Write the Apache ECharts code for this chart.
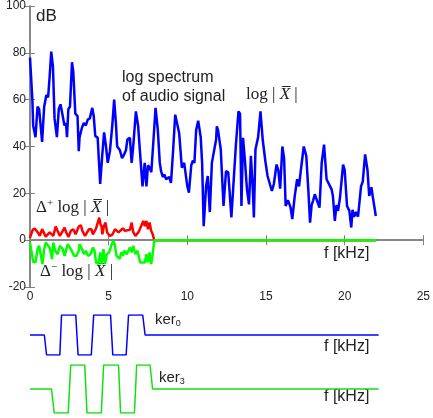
<!DOCTYPE html>
<html>
<head>
<meta charset="utf-8">
<script src="https://cdn.jsdelivr.net/npm/echarts@6/dist/echarts.min.js"></script>
<style>
  html, body { margin: 0; padding: 0; background: #fff; }
  #chart { width: 433px; height: 418px; }
</style>
</head>
<body>
<div id="chart"></div>
<script>
// log spectrum (blue): frequency in kHz, level in dB
var specFreq = [0,0.15,0.2,0.35,0.48,0.58,0.77,0.9,0.98,1.04,1.15,1.25,1.35,1.46,1.56,1.71,1.83,1.94,2.08,2.19,2.29,2.35,2.44,2.54,2.67,2.75,2.88,3.02,3.1,3.15,3.3,3.42,3.55,3.67,3.8,3.96,4.05,4.15,4.3,4.46,4.6,4.71,4.83,4.94,5.08,5.23,5.35,5.46,5.54,5.71,5.85,5.94,6.1,6.19,6.35,6.46,6.56,6.73,6.875,6.98,7.15,7.29,7.4,7.5,7.6,7.71,7.85,7.98,8.125,8.25,8.33,8.44,8.55,8.65,8.85,8.96,9.1,9.23,9.33,9.48,9.65,9.8,10,10.1,10.25,10.35,10.45,10.56,10.69,10.85,10.94,11.04,11.19,11.3,11.43,11.56,11.67,11.83,11.875,11.95,12.125,12.3,12.46,12.6,12.7,12.8,12.96,13.08,13.25,13.35,13.44,13.54,13.65,13.79,13.92,14.04,14.17,14.23,14.33,14.5,14.65,14.79,14.96,15.1,15.2,15.375,15.5,15.67,15.78,15.9,16.04,16.15,16.25,16.4,16.56,16.67,16.83,16.98,17.1,17.2,17.4,17.56,17.7,17.8,17.9,18.0,18.1,18.2,18.4,18.54,18.69,18.85,19.0,19.17,19.25,19.375,19.48,19.58,19.7,19.9,20.0,20.15,20.3,20.42,20.5,20.6,20.72,20.85,21.04,21.15,21.3,21.45,21.56,21.7,21.8,21.98];
var specDb = [78,60,49,44,57,56,42,57,57.5,62,61,70,80.5,74,52,44,56,58,53,49,50,44,56,57,76,72,54,53,38,44,48,50,49,51.5,52,56.5,53,44.4,43.8,24,37,46,40,33,38,49,60,50,40,38.5,35,36,38.4,43,43.7,33,40,55,48.6,38.7,23,33,23,32,31,29,43,56.5,47,33,29.5,27,28,26,27,24.5,38.7,53.6,53.6,45.8,31,33,23,20.3,32,34,33,47,51,44,33,6,23,27.4,12,33,33,43,48.6,47,38.7,14.6,29.5,29,29.5,9.7,27,40,55,54,14.6,43.7,35,21.7,15.3,36,20.3,9.7,38.7,44,55,43,33.7,27.4,27,21,24,32.3,30,22,40,35,14.6,17,14,9,19,26,23,29,40,36,20.3,7.5,15,17,19.6,20.3,13.9,33,40.8,26,24,21.7,19,8.2,15,12.5,18,32.3,30,14.6,12.5,5.4,13,10,12,10,23,25,36.6,30,18.9,22.6,18,10.3];

// positive difference (red)
var posFreq = [0,0.04,0.17,0.3,0.5,0.62,0.77,0.88,1.0,1.12,1.25,1.37,1.48,1.63,1.75,1.9,2.08,2.2,2.3,2.45,2.6,2.75,2.9,3.0,3.1,3.23,3.33,3.5,3.6,3.75,3.9,4.0,4.1,4.2,4.4,4.48,4.55,4.6,4.7,4.8,4.9,5.08,5.25,5.4,5.5,5.63,5.75,5.9,6.04,6.13,6.35,6.46,6.56,6.7,6.9,7.0,7.2,7.3,7.4,7.5,7.6,7.7,7.8,7.9,22];
var posDb = [1,1,4.4,5,3.3,1.8,4.7,4,1.5,1.8,3.3,4,1.8,5.8,4,1.8,4,5.4,3.3,1.4,4,4.7,2.5,3.3,5.8,6.4,4,1.8,2.5,4.7,4.7,2.5,3.3,5,9.6,6.8,5.8,2.5,6,7.5,3.3,1.8,2.5,4.7,5.4,3.3,4,5,4,3.5,4.4,7.5,3.5,1.8,3.5,5,8.2,6,8.2,4.7,7.5,4,2.5,0,0];

// negative difference (green)
var negFreq = [0,0.1,0.2,0.35,0.48,0.58,0.68,0.79,0.9,1.0,1.12,1.25,1.33,1.4,1.48,1.6,1.75,1.9,2.08,2.2,2.3,2.4,2.5,2.65,2.8,2.95,3.1,3.15,3.3,3.44,3.55,3.68,3.85,4.0,4.1,4.2,4.35,4.46,4.56,4.67,4.77,4.88,5.03,5.2,5.3,5.4,5.5,5.6,5.7,5.8,5.9,6.0,6.15,6.35,6.46,6.56,6.7,6.83,7.0,7.1,7.3,7.4,7.5,7.6,7.7,7.8,7.9,22];
var negDb = [-1,-5,-9.2,-9.5,-3.8,-2.4,-6,-10.2,-3.8,-1,-1,-3.1,-3.8,-8,-1,-4.5,-6,-2.4,-3.8,-6.7,-6,-1.7,-2.4,-4.5,-6.7,-6.7,-4.5,-1.7,-3.8,-6,-4.5,-6.7,-6,-3.1,-4.5,-9.5,-10.2,-5.2,-10.2,-3.8,-10.2,-6,-5.2,-1.7,-0.3,-2.4,-6.7,-6,-8,-5.2,-6.7,-4.5,-6,-3.1,-5.2,-2.4,-6,-4.5,-9.5,-10.2,-9.5,-6,-9.5,-5.2,-10.2,-6,0,0];

// kernels (step shapes): frequency in kHz, level -1 / 0 / +1
var ker0Freq = [0,0.9,1.04,1.875,1.98,2.875,3.02,3.85,4.0,5.06,5.2,6.04,6.19,7.08,7.23,21.9];
var ker0Val  = [0,0,-1,-1,1,1,-1,-1,1,1,-1,-1,1,1,0,0];
var ker3Freq = [0,1.35,1.52,2.4,2.56,3.44,3.58,4.48,4.625,5.56,5.69,6.56,6.7,7.54,7.7,21.9];
var ker3Val  = [0,0,-1,-1,1,1,-1,-1,1,1,-1,-1,1,1,0,0];

function pairs(xs, ys) {
  var out = [];
  for (var i = 0; i < xs.length; i++) out.push([xs[i], ys[i]]);
  return out;
}

var dom = document.getElementById('chart');
var myChart = echarts.init(dom, null, { renderer: 'canvas' });

var frameColor = '#808080';
var sansFont = 'Arial, Liberation Sans, sans-serif';
var serifFont = 'Times New Roman, Liberation Serif, serif';
var labelFont = { color: '#222', fontSize: 12, fontFamily: sansFont };

// serif label pieces, X in italic with a bar
var serifRich = {
  n: { fontSize: 17, fontFamily: serifFont, fill: '#222' },
  i: { fontSize: 17, fontFamily: serifFont, fontStyle: 'italic', fill: '#222' },
  sup: { fontSize: 11, fontFamily: serifFont, fill: '#222', padding: [0, 0, 8, 0] }
};
var subRich = {
  a: { fontSize: 15, fontFamily: sansFont, fill: '#222' },
  s: { fontSize: 9, fontFamily: sansFont, fill: '#222', padding: [8, 0, 0, 0] }
};

var option = {
  animation: false,
  grid: [
    { left: 30, right: 5, top: 6, bottom: 131 },
    { left: 30, right: 5, top: 315, height: 40 },
    { left: 30, right: 5, top: 365, height: 48 }
  ],
  xAxis: [
    { gridIndex: 0, type: 'value', min: 0, max: 25, interval: 5, position: 'bottom',
      axisLine: { lineStyle: { color: frameColor, width: 1.5 } },
      axisTick: { inside: true, length: 5, lineStyle: { color: frameColor } },
      axisLabel: Object.assign({ margin: 4 }, labelFont),
      splitLine: { show: false } },
    { gridIndex: 0, type: 'value', min: 0, max: 25, interval: 5, position: 'top',
      axisLine: { lineStyle: { color: frameColor, width: 1.5 } },
      axisTick: { inside: true, length: 5, lineStyle: { color: frameColor } },
      axisLabel: { show: false }, splitLine: { show: false } },
    { gridIndex: 1, type: 'value', min: 0, max: 25, show: false },
    { gridIndex: 2, type: 'value', min: 0, max: 25, show: false }
  ],
  yAxis: [
    { gridIndex: 0, type: 'value', min: -20, max: 100, interval: 20, position: 'left',
      axisLine: { show: true, lineStyle: { color: frameColor, width: 1.5 } },
      axisTick: { show: true, inside: true, length: 5, lineStyle: { color: frameColor } },
      axisLabel: Object.assign({ margin: 4 }, labelFont),
      splitLine: { show: false } },
    { gridIndex: 0, type: 'value', min: -20, max: 100, interval: 20, position: 'right',
      axisLine: { show: true, lineStyle: { color: frameColor, width: 1.5 } },
      axisTick: { show: true, inside: true, length: 5, lineStyle: { color: frameColor } },
      axisLabel: { show: false }, splitLine: { show: false } },
    { gridIndex: 1, type: 'value', min: -1, max: 1, show: false },
    { gridIndex: 2, type: 'value', min: -1, max: 1, show: false }
  ],
  series: [
    { type: 'line', xAxisIndex: 0, yAxisIndex: 0, data: pairs(specFreq, specDb),
      showSymbol: false, lineStyle: { color: '#0000ff', width: 2.5 }, z: 3 },
    { type: 'line', xAxisIndex: 0, yAxisIndex: 0, data: pairs(posFreq, posDb),
      showSymbol: false, lineStyle: { color: '#ff0000', width: 2.5 }, z: 2 },
    { type: 'line', xAxisIndex: 0, yAxisIndex: 0, data: pairs(negFreq, negDb),
      showSymbol: false, lineStyle: { color: '#00ff00', width: 2.5 }, z: 4 },
    { type: 'line', xAxisIndex: 2, yAxisIndex: 2, data: pairs(ker0Freq, ker0Val),
      showSymbol: false, lineStyle: { color: '#0000ff', width: 1.5 } },
    { type: 'line', xAxisIndex: 3, yAxisIndex: 3, data: pairs(ker3Freq, ker3Val),
      showSymbol: false, lineStyle: { color: '#11e011', width: 1.5 } }
  ],
  graphic: [
    { type: 'text', left: 36, top: 8, style: { text: 'dB', fontSize: 17, fontFamily: sansFont, fill: '#222' } },
    { type: 'text', left: 122, top: 68, style: { text: 'log spectrum\nof audio signal', fontSize: 16, lineHeight: 19, fontFamily: sansFont, fill: '#222' } },
    { type: 'text', left: 246, top: 86, style: { text: '{n|log | }{i|X\u0305}{n| |}', rich: serifRich } },
    { type: 'text', left: 36, top: 198, style: { text: '{n|\u0394}{sup|+}{n| log | }{i|X\u0305}{n| |}', rich: serifRich } },
    { type: 'text', left: 40, top: 262, style: { text: '{n|\u0394}{sup|\u2212}{n| log | }{i|X\u0305}{n| |}', rich: serifRich } },
    { type: 'text', left: 324, top: 246, style: { text: 'f [kHz]', fontSize: 16, fontFamily: sansFont, fill: '#222' } },
    { type: 'text', left: 155, top: 312, style: { text: '{a|ker}{s|0}', rich: subRich } },
    { type: 'text', left: 324, top: 339, style: { text: 'f [kHz]', fontSize: 16, fontFamily: sansFont, fill: '#222' } },
    { type: 'text', left: 159, top: 370, style: { text: '{a|ker}{s|3}', rich: subRich } },
    { type: 'text', left: 324, top: 389, style: { text: 'f [kHz]', fontSize: 16, fontFamily: sansFont, fill: '#222' } }
  ]
};

myChart.setOption(option);
window.addEventListener('resize', function () { myChart.resize(); });
</script>
</body>
</html>
